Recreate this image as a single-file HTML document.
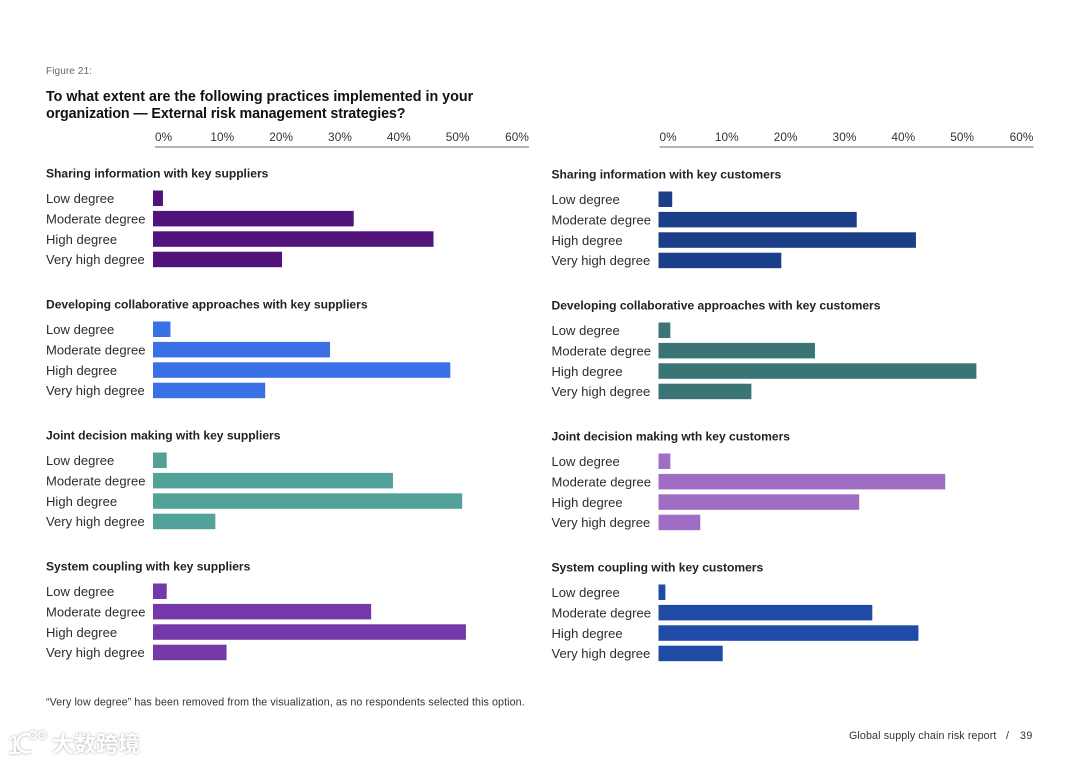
<!DOCTYPE html>
<html lang="en">
<head>
<meta charset="utf-8">
<title>Figure 21: External risk management strategies</title>
<style>
html,body{margin:0;padding:0;background:#fff;}
body{width:1080px;height:764px;overflow:hidden;font-family:"Liberation Sans","Noto Sans CJK SC",sans-serif;}
svg{display:block;}
text{font-family:"Liberation Sans","Noto Sans CJK SC",sans-serif;}
.lab{font-size:13px;fill:#2c2c2c;letter-spacing:.03px;}
.tick{font-size:11.8px;fill:#333;letter-spacing:.1px;}
.ttl{font-size:12.1px;font-weight:bold;fill:#222;letter-spacing:-.02px;}
</style>
</head>
<body>
<svg id="chart" width="1080" height="764" viewBox="0 0 1080 764" xmlns="http://www.w3.org/2000/svg">
  <rect width="1080" height="764" fill="#fff"/>
  <text x="46" y="74" font-size="10" fill="#666" letter-spacing=".1">Figure 21:</text>
  <text x="46" y="101" font-size="14.3" font-weight="bold" fill="#111" letter-spacing="0">To what extent are the following practices implemented in your</text>
  <text x="46" y="118" font-size="14.3" font-weight="bold" fill="#111" letter-spacing="-.12">organization — External risk management strategies?</text>
  <text x="46" y="705.500" font-size="10.700" fill="#333" letter-spacing=".09">“Very low degree” has been removed from the visualization, as no respondents selected this option.</text>
  <text x="849" y="739" font-size="10.700" fill="#333" letter-spacing=".12">Global supply chain risk report</text>
  <text x="1006" y="739" font-size="10.700" fill="#333">/</text>
  <text x="1020" y="739" font-size="10.700" fill="#333" letter-spacing=".4">39</text>
  <g style="filter:drop-shadow(0 0 1.200px #a8a8a8)">
    <text x="7" y="754" font-size="27" fill="#fff">1</text>
    <path d="M30 735a9 9 0 1 0 1 16" fill="none" stroke="#fff" stroke-width="2.600"/>
    <circle cx="33" cy="735" r="3.500" fill="none" stroke="#fff" stroke-width="1.800"/>
    <circle cx="42" cy="735" r="3.500" fill="none" stroke="#fff" stroke-width="1.800"/>
    <text x="52" y="752" font-size="22" font-weight="bold" fill="#fff" style="font-family:'Noto Sans CJK SC',sans-serif">大数跨境</text>
  </g>
</svg>
<script>
const categories = ["Low degree", "Moderate degree", "High degree", "Very high degree"];
const tickValues = [0, 10, 20, 30, 40, 50, 60];
const supplierTitles = ["Sharing information with key suppliers", "Developing collaborative approaches with key suppliers", "Joint decision making with key suppliers", "System coupling with key suppliers"];
const customerTitles = ["Sharing information with key customers", "Developing collaborative approaches with key customers", "Joint decision making wth key customers", "System coupling with key customers"];
const sharingSuppliers = [1.6, 32.2, 45.0, 20.7];
const collaborativeSuppliers = [2.8, 28.4, 47.7, 18.0];
const jointSuppliers = [2.2, 38.5, 49.6, 10.0];
const couplingSuppliers = [2.2, 35.0, 50.2, 11.8];
const sharingCustomers = [2.2, 31.8, 41.3, 19.7];
const collaborativeCustomers = [1.9, 25.1, 51.0, 14.9];
const jointCustomers = [1.9, 46.0, 32.2, 6.7];
const couplingCustomers = [1.1, 34.3, 41.7, 10.3];
const supplierSeries = [sharingSuppliers, collaborativeSuppliers, jointSuppliers, couplingSuppliers];
const customerSeries = [sharingCustomers, collaborativeCustomers, jointCustomers, couplingCustomers];
const supplierColors = ["#52137a", "#3a70e6", "#52a29a", "#7538a8"];
const customerColors = ["#1a3e88", "#3b7474", "#a06dc5", "#1f4aa5"];

const NS = "http://www.w3.org/2000/svg";
const svg = document.getElementById("chart");
const AXIS_MAX = 60;
const PX_PER_AXIS = 374;

function xLen(v) { return v / AXIS_MAX * PX_PER_AXIS; }
function make(tag, attrs, parent) {
  const el = document.createElementNS(NS, tag);
  for (const k in attrs) el.setAttribute(k, attrs[k]);
  parent.appendChild(el);
  return el;
}
function slug(s) { return s.toLowerCase().replace(/[^a-z0-9]+/g, "-"); }

function drawColumn(side, titles, series, colors, labelX, barX, axisX, topOffset) {
  const col = make("g", {}, svg);
  
  

  const axis = make("line", {x1: axisX, x2: axisX + PX_PER_AXIS, y1: 147, y2: 147, stroke: "#a8a8a8", "stroke-width": 1.800}, col);
  
  

  tickValues.forEach(function (t, i) {
    const anchor = i === 0 ? "start" : (i === tickValues.length - 1 ? "end" : "middle");
    const span = PX_PER_AXIS - 21;
    const tx = i === 0 ? axisX : (i === tickValues.length - 1 ? axisX + PX_PER_AXIS : axisX + 8.500 + xLen(t) * span / PX_PER_AXIS);
    const label = make("text", {x: tx, y: 141, "text-anchor": anchor, class: "tick"}, col);
    label.textContent = t + "%";
    
    
  });

  titles.forEach(function (title, g) {
    const top = 131 * g + topOffset;
    const group = make("g", {}, col);
    
    

    const head = make("text", {x: labelX, y: top - 13, class: "ttl"}, group);
    head.textContent = title;
    
    

    categories.forEach(function (cat, r) {
      const rowY = top + 20.400 * r;
      const lab = make("text", {x: labelX, y: rowY + 12.500, class: "lab"}, group);
      lab.textContent = cat;
      
      

      const bar = make("rect", {x: barX, y: rowY, width: xLen(series[g][r]), height: 15.500, fill: colors[g]}, group);
      
      
    });
  });
}

drawColumn("suppliers", supplierTitles, supplierSeries, supplierColors, 46, 153, 155, 190.500);
drawColumn("customers", customerTitles, customerSeries, customerColors, 551.500, 658.500, 659.500, 191.500);
</script>
</body>
</html>
